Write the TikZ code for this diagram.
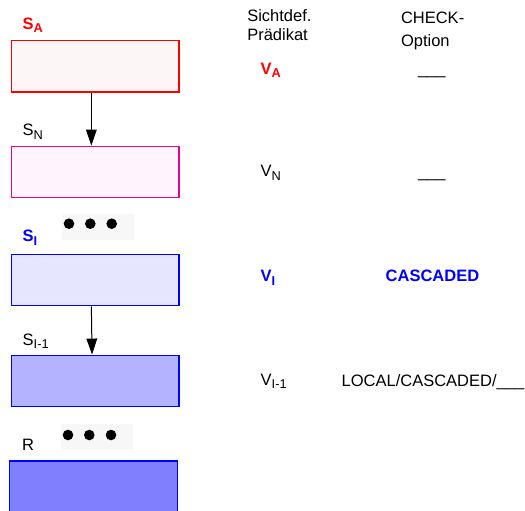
\documentclass[tikz,border=0pt]{standalone}
\usepackage{fontspec}
\setmainfont{Liberation Sans}
\usetikzlibrary{arrows.meta,calc}

\definecolor{redfill}{HTML}{FDF6F6}
\definecolor{magfill}{HTML}{FFF5FF}
\definecolor{bluefillA}{HTML}{E6E6FF}
\definecolor{bluefillB}{HTML}{B3B3FF}
\definecolor{bluefillC}{HTML}{8080FF}
\definecolor{dotbg}{HTML}{F7F7F7}

% lowered index in a label
\newcommand\lowidx[1]{\raisebox{-3.4pt}{\fontsize{12.8}{13}\selectfont #1}}

\tikzset{
  txt/.style={anchor=base west, inner sep=0pt, outer sep=0pt,
              font=\fontsize{16.5}{19}\selectfont},
  bold/.style={font=\fontsize{16.5}{19}\selectfont\bfseries},
  relbox/.style={draw, line width=1.2pt, minimum width=167.3pt,
                 minimum height=51.7pt, inner sep=0pt},
  flow/.style={line width=1pt, -{Triangle[length=16pt,width=10.7pt]}},
  dotbox/.style={fill=dotbg, draw=none, minimum width=72pt,
                 minimum height=26pt, inner sep=0pt},
  dot/.style={circle, fill=black, minimum size=10.6pt, inner sep=0pt}
}

\begin{document}
\begin{tikzpicture}[x=1pt,y=-1pt]
\clip (0,0) rectangle (525,511);
\fill[white] (0,0) rectangle (525,511);

% relation boxes
\node[relbox, draw=red, fill=redfill] (sa) at (95.35,66.15) {};
\node[relbox, draw=magenta, fill=magfill] (sn) at (95.35,172) {};
\node[relbox, draw=blue, fill=bluefillA] (si) at (95.35,280) {};
\node[relbox, draw=blue, fill=bluefillB] (si1) at (95.35,381) {};
\node[relbox, draw=blue, fill=bluefillC, minimum width=168pt, minimum height=56pt] (r) at (93.3,489) {};

% box labels
\node[txt, bold, text=red] (lsa) at (22.7,29.3) {S\lowidx{A}};
\node[txt] (lsn) at (22.7,135.7) {S\lowidx{N}};
\node[txt, bold, text=blue] (lsi) at (22.7,241.7) {S\lowidx{I}};
\node[txt] (lsi1) at (22.7,345) {S\lowidx{I-1}};
\node[txt] (lr) at (22,450) {R};

% ellipsis marks
\node[dotbox] (dots1) at (98,227) {};
\node[dot] (d11) at (69,223.7) {};
\node[dot] (d12) at (90.3,223.7) {};
\node[dot] (d13) at (111.7,223.7) {};
\node[dotbox] (dots2) at (96.8,437) {};
\node[dot] (d21) at (68,435) {};
\node[dot] (d22) at (89.3,435) {};
\node[dot] (d23) at (111,435) {};

% derivation arrows
\draw[flow] ($(sa.south)+(-4,0)$) -- ($(sn.north)+(-4,0)$);
\draw[flow] ($(si.south)+(-4,0)$) -- ($(si1.north)+(-3.3,0)$);

% column headings
\node[txt] (h1a) at (247.3,21.7) {Sichtdef.};
\node[txt] (h1b) at (247.3,40.7) {Prädikat};
\node[txt] (h2a) at (401,24) {CHECK-};
\node[txt] (h2b) at (401,47) {Option};

% view predicates
\node[txt, bold, text=red] (va) at (260.7,74.5) {V\lowidx{A}};
\node[txt] (vn) at (260.7,176.7) {V\lowidx{N}};
\node[txt, bold, text=blue] (vi) at (260.7,281.7) {V\lowidx{I}};
\node[txt] (vi1) at (260.7,385) {V\lowidx{I-1}};

% check options
\node[txt] (ca) at (418,74.5) {\_\_\_};
\node[txt] (cn) at (418,177) {\_\_\_};
\node[txt, bold, text=blue] (ci) at (385.7,281.7) {CASCADED};
\node[txt] (ci1) at (341.7,386) {LOCAL/CASCADED/\_\_\_};
\end{tikzpicture}
\end{document}
